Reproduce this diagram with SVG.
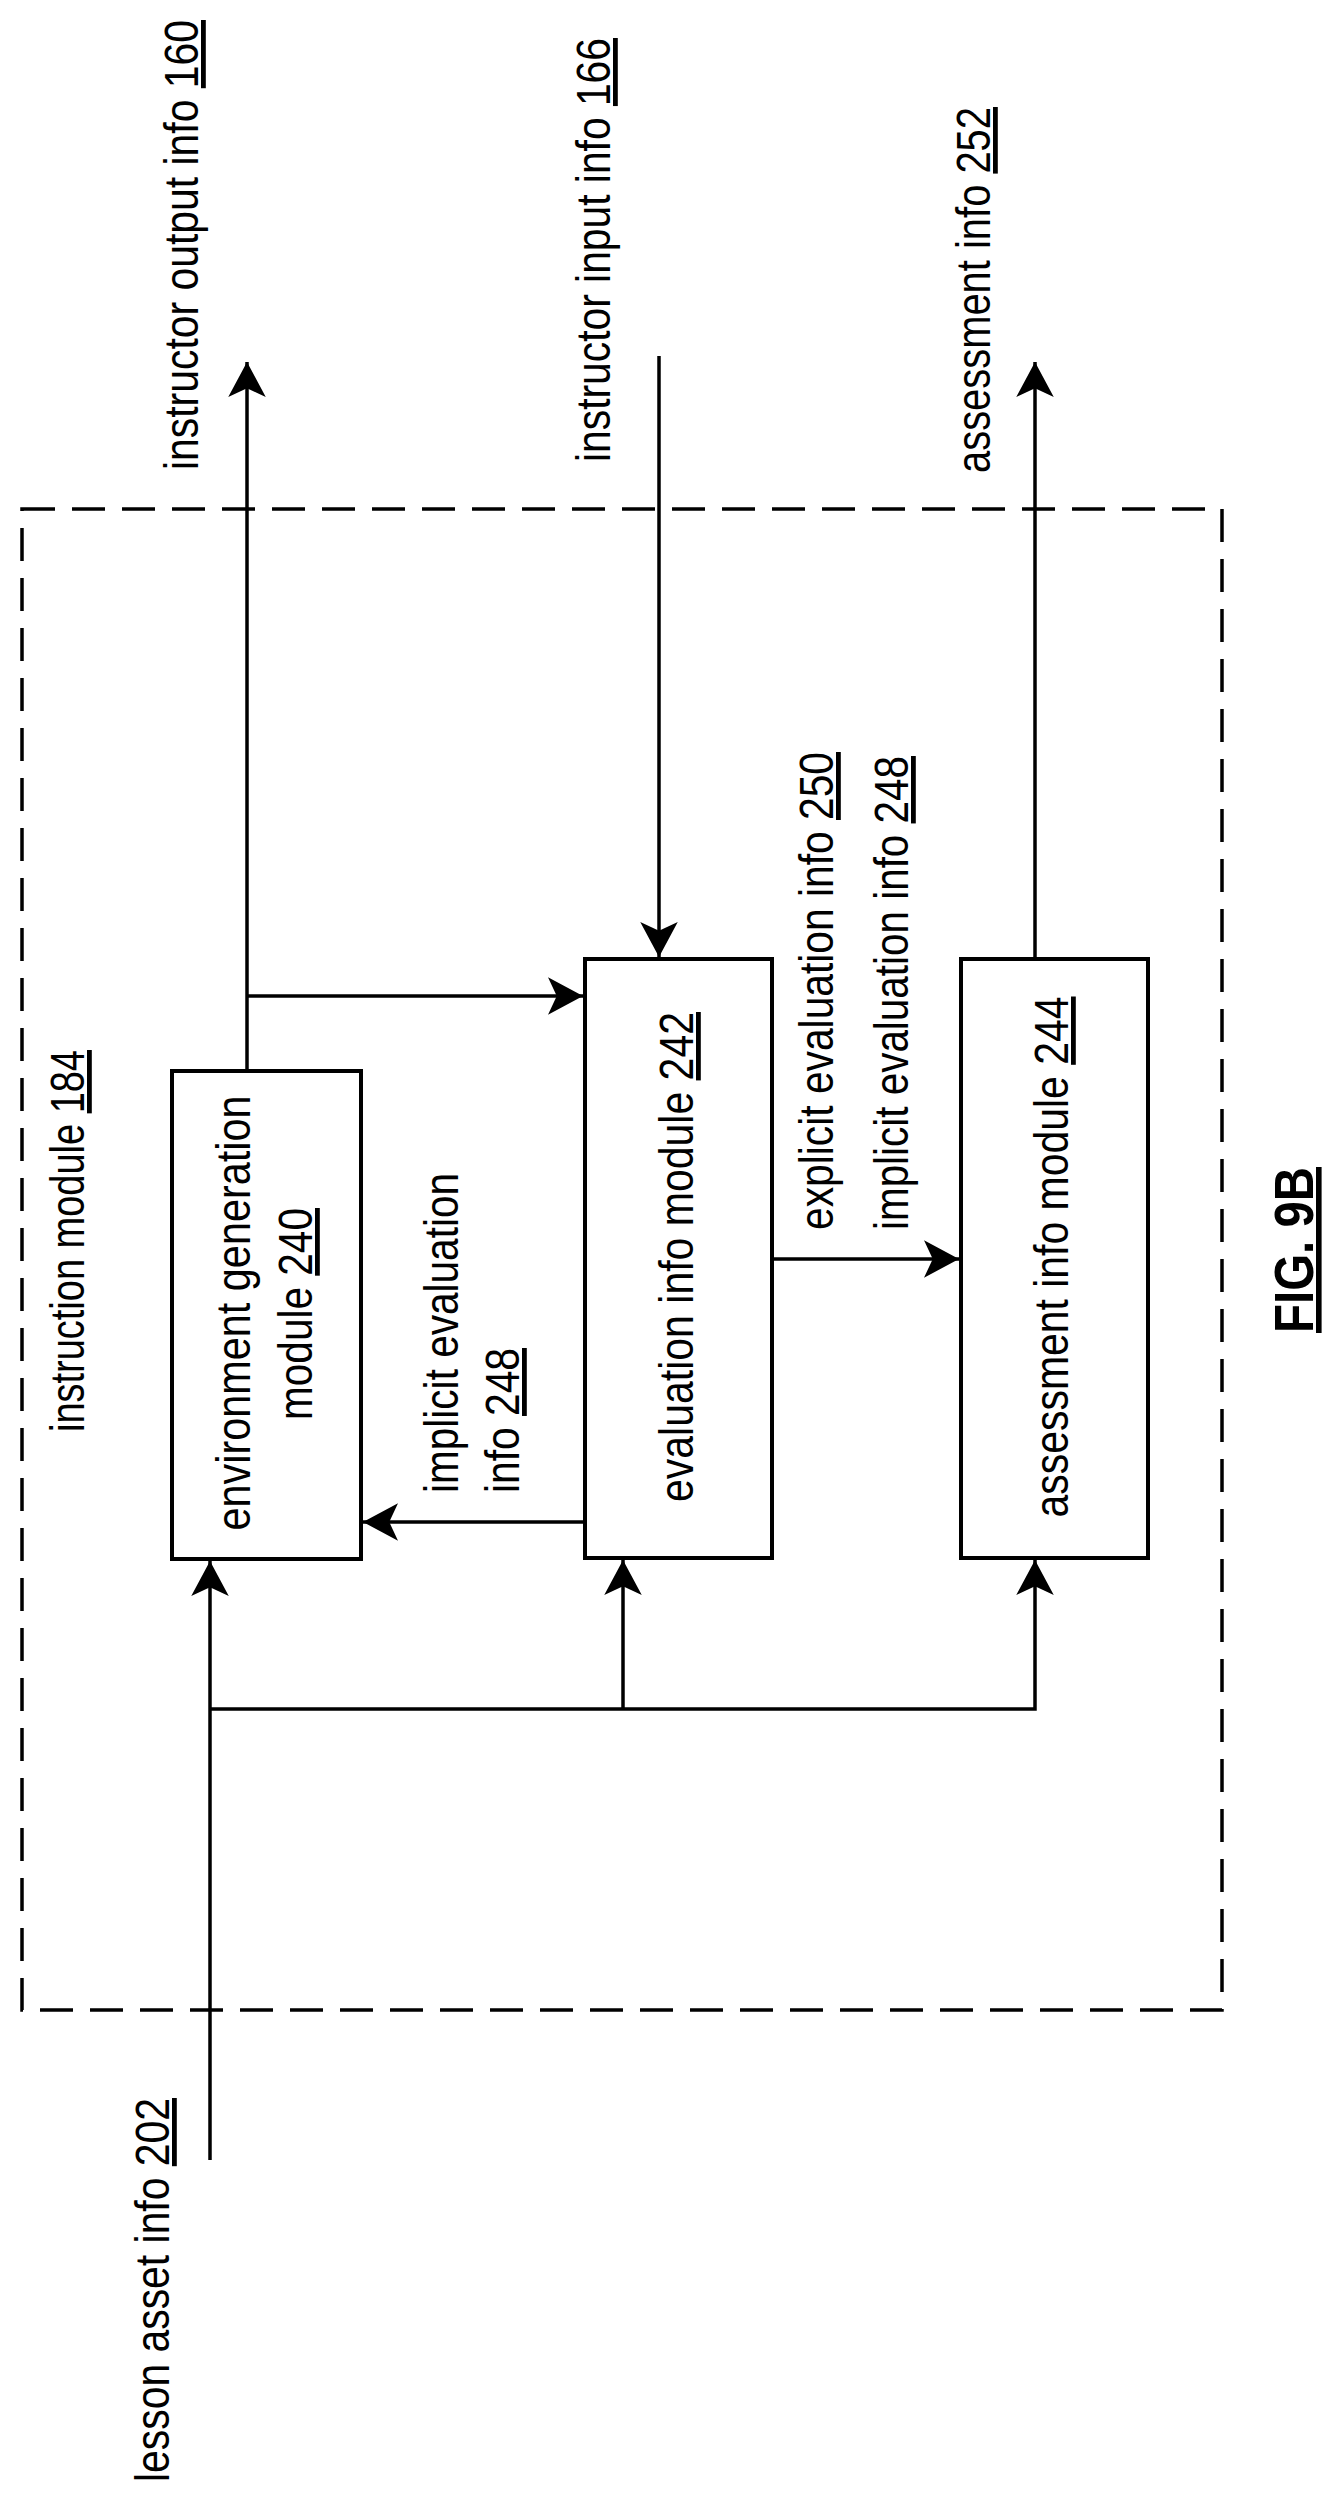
<svg xmlns="http://www.w3.org/2000/svg" width="1344" height="2502" viewBox="0 0 1344 2502">
<style>
text{font-family:"Liberation Sans",Arial,sans-serif;font-size:48px;fill:#000}
.u{text-decoration:underline}
.box{fill:none;stroke:#000;stroke-width:4}
.c{fill:none;stroke:#000;stroke-width:3.5}
.fig{font-weight:bold;font-size:56px}
</style>
<defs>
<marker id="ah" markerUnits="userSpaceOnUse" markerWidth="40" markerHeight="40" viewBox="-30 -16 32 32" refX="0" refY="0" orient="auto">
<path d="M0,0 L-28,-15 L-21,0 L-28,15 Z" fill="#000"/>
</marker>
</defs>
<g id="container">
<rect x="22" y="509" width="1200" height="1501" fill="none" stroke="#000" stroke-width="3.5" stroke-dasharray="33 17"/>
<text transform="translate(84,1432) rotate(-90)" textLength="382" lengthAdjust="spacingAndGlyphs">instruction module <tspan class="u">184</tspan></text>
</g>
<g id="env">
<rect class="box" x="172" y="1071" width="189" height="488"/>
<text transform="translate(250,1313) rotate(-90)" text-anchor="middle" textLength="435" lengthAdjust="spacingAndGlyphs">environment generation</text>
<text transform="translate(312,1314) rotate(-90)" text-anchor="middle" textLength="212" lengthAdjust="spacingAndGlyphs">module <tspan class="u">240</tspan></text>
</g>
<g id="eval">
<rect class="box" x="585" y="959" width="187" height="599"/>
<text transform="translate(693,1257) rotate(-90)" text-anchor="middle" textLength="490" lengthAdjust="spacingAndGlyphs">evaluation info module <tspan class="u">242</tspan></text>
</g>
<g id="assess">
<rect class="box" x="961" y="959" width="187" height="599"/>
<text transform="translate(1068,1257) rotate(-90)" text-anchor="middle" textLength="521" lengthAdjust="spacingAndGlyphs">assessment info module <tspan class="u">244</tspan></text>
</g>
<g id="connectors">
<path class="c" d="M247,1071 V362" marker-end="url(#ah)"/>
<path class="c" d="M247,996 H583" marker-end="url(#ah)"/>
<path class="c" d="M659,356 V957" marker-end="url(#ah)"/>
<path class="c" d="M772,1259 H959" marker-end="url(#ah)"/>
<path class="c" d="M585,1522 H363" marker-end="url(#ah)"/>
<path class="c" d="M1035,959 V362" marker-end="url(#ah)"/>
<path class="c" d="M210,2160 V1561" marker-end="url(#ah)"/>
<path class="c" d="M210,1709 H1035 V1560" marker-end="url(#ah)"/>
<path class="c" d="M623,1709 V1560" marker-end="url(#ah)"/>
</g>
<g id="labels">
<text transform="translate(198,470) rotate(-90)" textLength="450" lengthAdjust="spacingAndGlyphs">instructor output info <tspan class="u">160</tspan></text>
<text transform="translate(610,462) rotate(-90)" textLength="424" lengthAdjust="spacingAndGlyphs">instructor input info <tspan class="u">166</tspan></text>
<text transform="translate(990,473) rotate(-90)" textLength="366" lengthAdjust="spacingAndGlyphs">assessment info <tspan class="u">252</tspan></text>
<text transform="translate(169,2482) rotate(-90)" textLength="384" lengthAdjust="spacingAndGlyphs">lesson asset info <tspan class="u">202</tspan></text>
<text transform="translate(458,1493) rotate(-90)" textLength="320" lengthAdjust="spacingAndGlyphs">implicit evaluation</text>
<text transform="translate(519,1493) rotate(-90)" textLength="145" lengthAdjust="spacingAndGlyphs">info <tspan class="u">248</tspan></text>
<text transform="translate(833,1230) rotate(-90)" textLength="478" lengthAdjust="spacingAndGlyphs">explicit evaluation info <tspan class="u">250</tspan></text>
<text transform="translate(908,1230) rotate(-90)" textLength="474" lengthAdjust="spacingAndGlyphs">implicit evaluation info <tspan class="u">248</tspan></text>
<text class="fig u" transform="translate(1313,1250) rotate(-90)" text-anchor="middle" textLength="166" lengthAdjust="spacingAndGlyphs">FIG. 9B</text>
</g>
</svg>
